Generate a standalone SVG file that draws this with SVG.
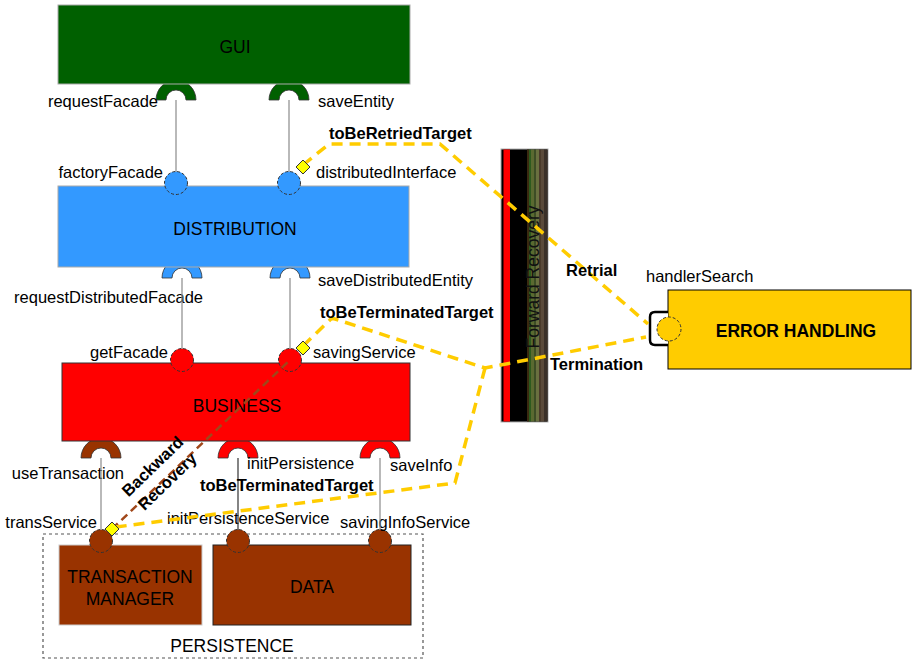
<svg xmlns="http://www.w3.org/2000/svg" xmlns:xlink="http://www.w3.org/1999/xlink" width="912" height="662" viewBox="0 0 912 662">
<defs>
<style>
text{font-family:"Liberation Sans",Arial,sans-serif;font-size:16.5px;fill:#000}
.b{font-weight:bold}
.box{font-size:17.5px}
.ball{stroke:#333;stroke-width:1;stroke-dasharray:3 2}
.wire{stroke:#8a8a8a;stroke-width:1.2;fill:none}
.yel{stroke:#ffcc00;stroke-width:3.5;stroke-dasharray:11 7;fill:none}
.bwd{stroke:#a0471a;stroke-width:2.5;stroke-dasharray:8 5;fill:none}
.dia{fill:#ffff00;stroke:#333;stroke-width:1}
</style>
<path id="sock" d="M-20,0 A20,20 0 0 1 20,0 L10,0 A10,10 0 0 0 -10,0 Z" stroke="#333" stroke-width="0.8"/>
</defs>

<g id="forward-recovery">
<rect x="501" y="149" width="47" height="273" fill="#000" stroke="#b0b0b0" stroke-width="1"/>
<rect x="503.5" y="149.5" width="6.5" height="272" fill="#ff0000"/>
<rect x="527" y="149.5" width="2" height="272" fill="#3a2a10"/>
<rect x="529" y="149.5" width="2" height="272" fill="#2d5a1e"/>
<rect x="531" y="149.5" width="3" height="272" fill="#5a6a30"/>
<rect x="534" y="149.5" width="2" height="272" fill="#3d4d25"/>
<rect x="536" y="149.5" width="3" height="272" fill="#6a7040"/>
<rect x="539" y="149.5" width="2" height="272" fill="#4a3a2a"/>
<rect x="541" y="149.5" width="3" height="272" fill="#5a4a3a"/>
<rect x="544" y="149.5" width="3.5" height="272" fill="#3a3028"/>
<text transform="translate(539,277) rotate(-90)" text-anchor="middle" style="font-size:17.5px;fill:#111">Forward Recovery</text>
</g>

<g id="gui">
<use xlink:href="#sock" href="#sock" x="176" y="100" fill="#006000"/>
<use xlink:href="#sock" href="#sock" x="289" y="100" fill="#006000"/>
<rect x="58" y="5" width="352" height="79" fill="#006000" stroke="#aaa" stroke-width="1"/>
<text x="235" y="53" text-anchor="middle" class="box">GUI</text>
<text x="158" y="107" text-anchor="end">requestFacade</text>
<text x="318" y="107">saveEntity</text>
</g>

<g id="distribution">
<use xlink:href="#sock" href="#sock" x="182" y="278" fill="#3399ff"/>
<use xlink:href="#sock" href="#sock" x="290" y="278" fill="#3399ff"/>
<rect x="58" y="186" width="351" height="81" fill="#3399ff" stroke="#aaa" stroke-width="1"/>
<circle class="ball" cx="176" cy="183" r="11.5" fill="#3399ff"/>
<circle class="ball" cx="289" cy="183" r="11.5" fill="#3399ff"/>
<text x="235" y="235" text-anchor="middle" class="box">DISTRIBUTION</text>
<text x="163" y="178" text-anchor="end">factoryFacade</text>
<text x="316" y="178">distributedInterface</text>
<text x="318" y="286">saveDistributedEntity</text>
<text x="203" y="303" text-anchor="end">requestDistributedFacade</text>
</g>

<g id="business">
<use xlink:href="#sock" href="#sock" x="101" y="458" fill="#993300"/>
<use xlink:href="#sock" href="#sock" x="238" y="458" fill="#ff0000"/>
<use xlink:href="#sock" href="#sock" x="380" y="458" fill="#ff0000"/>
<rect x="62" y="363" width="348" height="78" fill="#ff0000" stroke="#333" stroke-width="1"/>
<circle class="ball" cx="182" cy="360" r="11.5" fill="#ff0000"/>
<circle class="ball" cx="290" cy="360" r="11.5" fill="#ff0000"/>
<text x="237" y="412" text-anchor="middle" class="box">BUSINESS</text>
<text x="168" y="358" text-anchor="end">getFacade</text>
<text x="313" y="358">savingService</text>
<text x="124" y="479" text-anchor="end">useTransaction</text>
<text x="247" y="469">initPersistence</text>
<text x="390" y="471">saveInfo</text>
</g>

<g id="persistence">
<rect x="43" y="534" width="380" height="124" fill="none" stroke="#555" stroke-width="1.2" stroke-dasharray="3 3"/>
<text x="232" y="652" text-anchor="middle" class="box">PERSISTENCE</text>
</g>

<g id="transaction-manager">
<rect x="59" y="545" width="143" height="80" fill="#993300" stroke="#ccc" stroke-width="1"/>
<circle class="ball" cx="101" cy="541" r="11.5" fill="#993300"/>
<text x="130" y="583" text-anchor="middle" class="box">TRANSACTION</text>
<text x="130" y="605" text-anchor="middle" class="box">MANAGER</text>
<text x="97" y="528" text-anchor="end">transService</text>
</g>

<g id="data">
<rect x="213" y="545" width="198" height="80" fill="#993300" stroke="#222" stroke-width="1"/>
<circle class="ball" cx="238" cy="541" r="11.5" fill="#993300"/>
<circle class="ball" cx="380" cy="541" r="11.5" fill="#993300"/>
<text x="312" y="593" text-anchor="middle" class="box">DATA</text>
<text x="167" y="524">initPersistenceService</text>
<text x="340" y="528">savingInfoService</text>
</g>

<g id="error-handling">
<rect x="668" y="290" width="243" height="79" fill="#ffcc00" stroke="#000" stroke-width="1"/>
<path d="M668,312 L655,312 Q650,312 650,317 L650,340 Q650,345 655,345 L668,345" fill="#fff" stroke="#000" stroke-width="2.5"/>
<circle class="ball" cx="669" cy="329" r="12" fill="#ffcc00"/>
<text x="796" y="337" text-anchor="middle" class="b" style="font-size:17.5px">ERROR HANDLING</text>
<text x="646" y="282">handlerSearch</text>
</g>

<g id="connectors">
<line class="wire" x1="176" y1="100" x2="176" y2="172"/>
<line class="wire" x1="289" y1="100" x2="289" y2="172"/>
<line class="wire" x1="182" y1="278" x2="182" y2="349"/>
<line class="wire" x1="290" y1="278" x2="290" y2="349"/>
<line class="wire" x1="101" y1="458" x2="101" y2="530"/>
<line class="wire" x1="238" y1="458" x2="238" y2="530" style="stroke:#333"/>
<line class="wire" x1="380" y1="458" x2="380" y2="530"/>
<line class="bwd" x1="112" y1="529" x2="290" y2="360"/>
<path class="yel" d="M303,165 L329,144 L440,144 L648,324"/>
<path class="yel" d="M303,346 L332,318 L485,368 L646,337"/>
<path class="yel" d="M485,368 L455,483 L116,527"/>
<polygon class="dia" points="303,160 310,167 303,174 296,167"/>
<polygon class="dia" points="303,341 310,348 303,355 296,348"/>
<polygon class="dia" points="112,522 119,529 112,536 105,529"/>
<text x="329" y="139" class="b">toBeRetriedTarget</text>
<text x="320" y="318" class="b">toBeTerminatedTarget</text>
<text x="200" y="491" class="b">toBeTerminatedTarget</text>
<text x="566" y="276" class="b">Retrial</text>
<text x="550" y="370" class="b">Termination</text>
<g transform="translate(160,474) rotate(-44)">
<text x="0" y="-5" text-anchor="middle" class="b">Backward</text>
<text x="0" y="16" text-anchor="middle" class="b">Recovery</text>
</g>
</g>
</svg>
